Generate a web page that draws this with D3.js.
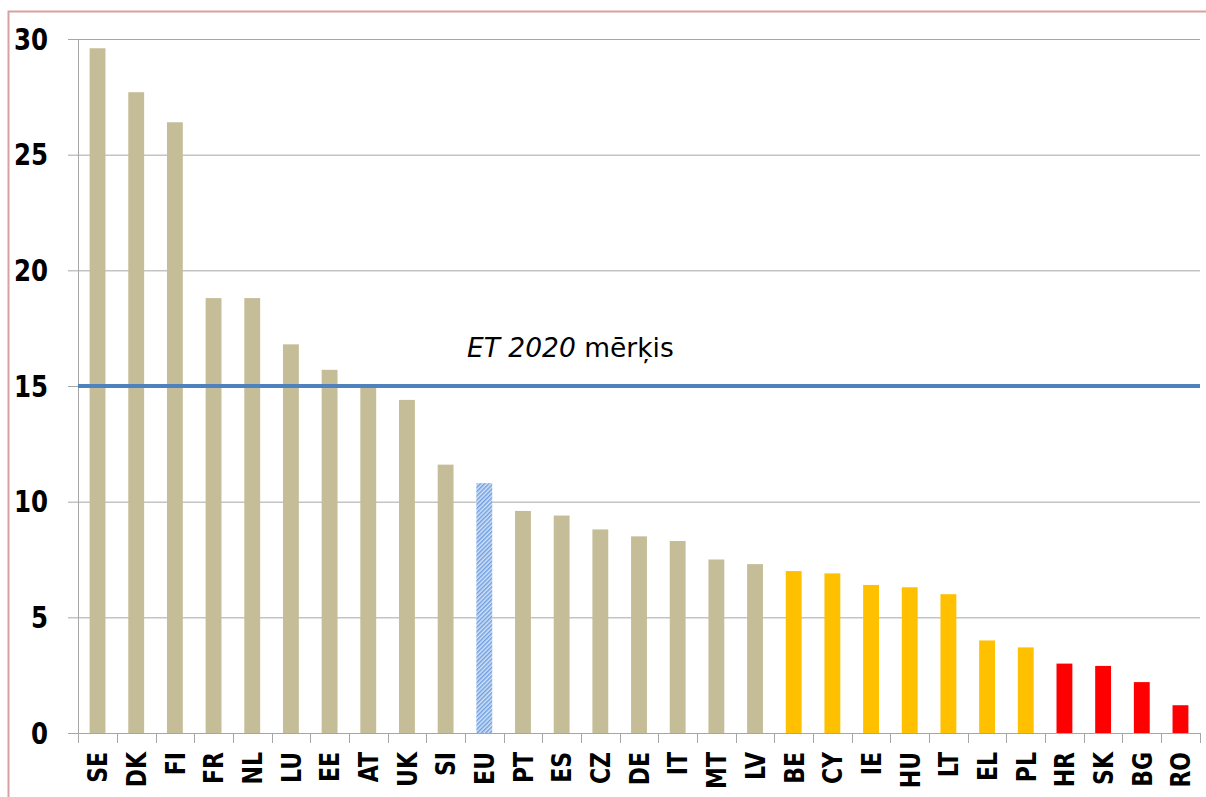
<!DOCTYPE html>
<html>
<head>
<meta charset="utf-8">
<script src="https://cdn.jsdelivr.net/npm/d3@7"></script>
<style>
  body { margin: 0; background: #fff; }
  svg { display: block; }
</style>
</head>
<body>
<script>
// country codes, in the order shown
var countries = ["SE","DK","FI","FR","NL","LU","EE","AT","UK","SI","EU","PT","ES","CZ","DE","IT","MT","LV","BE","CY","IE","HU","LT","EL","PL","HR","SK","BG","RO"];
// values
var values = [29.6,27.7,26.4,18.8,18.8,16.8,15.7,15.0,14.4,11.6,10.8,9.6,9.4,8.8,8.5,8.3,7.5,7.3,7.0,6.9,6.4,6.3,6.0,4.0,3.7,3.0,2.9,2.2,1.2];
// colour group of each bar
var groups = ["a","a","a","a","a","a","a","a","a","a","eu","a","a","a","a","a","a","a","b","b","b","b","b","b","b","c","c","c","c"];
var yTicks = [0,5,10,15,20,25,30];
var target = 15;

var width = 1206, height = 797;
var margin = {top: 39, right: 6, bottom: 64, left: 78};

var svg = d3.select("body").append("svg")
  .attr("width", width).attr("height", height);

// hatch for the EU bar
var defs = svg.append("defs");
var pat = defs.append("pattern")
  .attr("id", "hatch")
  .attr("patternUnits", "userSpaceOnUse")
  .attr("width", 3).attr("height", 3)
  .attr("patternTransform", "rotate(45)");
pat.append("rect").attr("width", 3).attr("height", 3).attr("fill", "#d4e3f8");
pat.append("rect").attr("width", 1.5).attr("height", 3).attr("fill", "#6f9fe0");

// outer frame
svg.append("rect")
  .attr("x", 8.5).attr("y", 11.5)
  .attr("width", 1210).attr("height", 800)
  .attr("fill", "none").attr("stroke", "#d9a0a0").attr("stroke-width", 2);

var x = d3.scaleBand()
  .domain(countries)
  .range([margin.left, width - margin.right])
  .paddingInner(0.59).paddingOuter(0.3);

var y = d3.scaleLinear()
  .domain([0, 30])
  .range([height - margin.bottom, margin.top]);

var colour = {a: "#c4bd97", b: "#ffc000", c: "#ff0000", eu: "url(#hatch)"};

// gridlines
svg.append("g")
  .selectAll("line")
  .data(yTicks)
  .enter().append("line")
  .attr("x1", margin.left - 10)
  .attr("x2", width - margin.right)
  .attr("y1", function(d){ return y(d) + 0.5; })
  .attr("y2", function(d){ return y(d) + 0.5; })
  .attr("stroke", "#a6a6a6").attr("stroke-width", 1);

// y labels (glyphs are a bit taller than wide in the original)
svg.append("g")
  .selectAll("text")
  .data(yTicks)
  .enter().append("text")
  .attr("transform", function(d){ return "translate(48," + y(d) + ") scale(1,1.22)"; })
  .attr("dy", "0.36em")
  .attr("text-anchor", "end")
  .attr("font-family", "DejaVu Sans")
  .attr("font-weight", "bold")
  .attr("font-size", "24.5px")
  .text(function(d){ return d; });

// bars
svg.append("g")
  .selectAll("rect")
  .data(countries)
  .enter().append("rect")
  .attr("x", function(d){ return x(d); })
  .attr("y", function(d, i){ return y(values[i]); })
  .attr("width", x.bandwidth())
  .attr("height", function(d, i){ return y(0) - y(values[i]); })
  .attr("fill", function(d, i){ return colour[groups[i]]; });

// y axis line
svg.append("line")
  .attr("x1", margin.left + 0.5).attr("x2", margin.left + 0.5)
  .attr("y1", margin.top).attr("y2", y(0))
  .attr("stroke", "#a6a6a6");

// x axis with ticks between categories
var step = x.step();
var edges = d3.range(countries.length + 1).map(function(i){
  return x(countries[0]) - (step - x.bandwidth()) / 2 + i * step;
});
svg.append("line")
  .attr("x1", margin.left).attr("x2", width - margin.right)
  .attr("y1", y(0) + 0.5).attr("y2", y(0) + 0.5)
  .attr("stroke", "#a6a6a6");
svg.append("g")
  .selectAll("line")
  .data(edges)
  .enter().append("line")
  .attr("x1", function(d){ return Math.round(d) + 0.5; })
  .attr("x2", function(d){ return Math.round(d) + 0.5; })
  .attr("y1", y(0)).attr("y2", y(0) + 10)
  .attr("stroke", "#a6a6a6");

// x labels, rotated
svg.append("g")
  .selectAll("text")
  .data(countries)
  .enter().append("text")
  .attr("transform", function(d){
    return "translate(" + (x(d) + x.bandwidth() / 2) + "," + (y(0) + 19) + ") rotate(-90) scale(1,1.24)";
  })
  .attr("dy", "0.36em")
  .attr("text-anchor", "end")
  .attr("font-family", "DejaVu Sans")
  .attr("font-weight", "bold")
  .attr("font-size", "22px")
  .text(function(d){ return d; });

// target line
svg.append("line")
  .attr("x1", margin.left).attr("x2", width - margin.right)
  .attr("y1", y(target)).attr("y2", y(target))
  .attr("stroke", "#4f81bd").attr("stroke-width", 4);

var lbl = svg.append("text")
  .attr("x", 467).attr("y", y(target) - 29)
  .attr("font-family", "DejaVu Sans")
  .attr("font-size", "26.5px");
lbl.append("tspan").attr("font-style", "italic").text("ET 2020");
lbl.append("tspan").text(" mērķis");
</script>
</body>
</html>
